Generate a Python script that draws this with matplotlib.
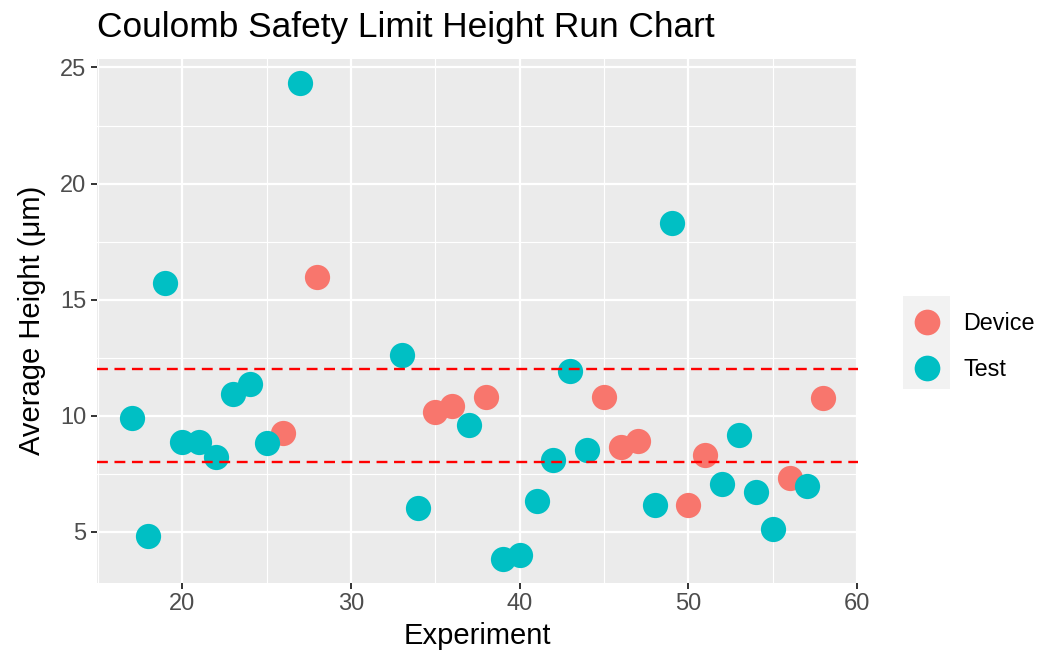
import matplotlib.pyplot as plt
from matplotlib.lines import Line2D
from matplotlib.patches import Rectangle
import numpy as np

plt.rcParams['font.family'] = ['Liberation Sans', 'DejaVu Sans']

# run data: experiment number and average height
test_exp = [17, 18, 19, 20, 21, 22, 23, 24, 25, 27, 33, 34, 37, 39, 40, 41,
            42, 43, 44, 48, 49, 52, 53, 54, 55, 57]
test_height = [9.89, 4.83, 15.71, 8.88, 8.85, 8.21, 10.92, 11.37, 8.82, 24.34,
               12.62, 6.03, 9.60, 3.82, 4.01, 6.32, 8.10, 11.94, 8.52, 6.14,
               18.28, 7.06, 9.18, 6.70, 5.12, 6.96]
device_exp = [26, 28, 35, 36, 38, 45, 46, 47, 50, 51, 56, 58]
device_height = [9.27, 15.97, 10.15, 10.43, 10.79, 10.82, 8.64, 8.90, 6.16,
                 8.31, 7.33, 10.76]
limits = [12, 8]

red = '#F8766D'
teal = '#00BFC4'
W, H = 1058, 653

fig = plt.figure(figsize=(W / 100, H / 100), dpi=100)
ax = fig.add_axes([97 / W, 1 - 583 / H, 761 / W, 524 / H])
ax.set_facecolor('#EBEBEB')

all_x = np.array(test_exp + device_exp)
all_y = np.array(test_height + device_height)
xr = all_x.max() - all_x.min()
yr = all_y.max() - all_y.min()
ax.set_xlim(all_x.min() - 0.05 * xr, all_x.max() + 0.05 * xr)
ax.set_ylim(all_y.min() - 0.05 * yr, all_y.max() + 0.05 * yr)

ax.set_xticks([20, 30, 40, 50, 60])
ax.set_yticks([5, 10, 15, 20, 25])
ax.set_xticks([15, 25, 35, 45, 55], minor=True)
ax.set_yticks([7.5, 12.5, 17.5, 22.5], minor=True)
ax.grid(which='major', color='white', linewidth=1.6)
ax.grid(which='minor', color='white', linewidth=0.8)
ax.set_axisbelow(True)
for s in ax.spines.values():
    s.set_visible(False)
ax.tick_params(which='major', length=4.5, width=1.4, color='#333333',
               labelsize=17, labelcolor='#4D4D4D', pad=3)
ax.tick_params(which='minor', length=0)

ax.scatter(device_exp, device_height, s=330, color=red, linewidths=0, zorder=3)
ax.scatter(test_exp, test_height, s=330, color=teal, linewidths=0, zorder=3)
for lim in limits:
    ax.axhline(lim, color='#FF0000', linestyle=(0, (4.6, 2.8)), linewidth=1.7, zorder=4)

fig.text(477.5 / W, 1 - 636 / H, 'Experiment', fontsize=21,
         ha='center', va='center')
fig.text(32 / W, 1 - 320 / H, 'Average Height (μm)', fontsize=21,
         rotation=90, ha='center', va='center')
fig.text(97 / W, 1 - 37 / H, 'Coulomb Safety Limit Height Run Chart',
         fontsize=25.4, va='baseline', ha='left')

# legend
fig.add_artist(Rectangle((903 / W, 1 - 389 / H), 47 / W, 93 / H,
                         transform=fig.transFigure, facecolor='#F2F2F2',
                         edgecolor='none'))
for yy, col, lab in [(322, red, 'Device'), (367.5, teal, 'Test')]:
    fig.add_artist(Line2D([927 / W], [1 - yy / H], marker='o', markersize=18.5,
                          color=col, markeredgewidth=0, transform=fig.transFigure))
    fig.text(963 / W, 1 - (yy + 8) / H, lab, fontsize=16.8,
             va='baseline', ha='left')

fig.savefig('out.png', dpi=100)
